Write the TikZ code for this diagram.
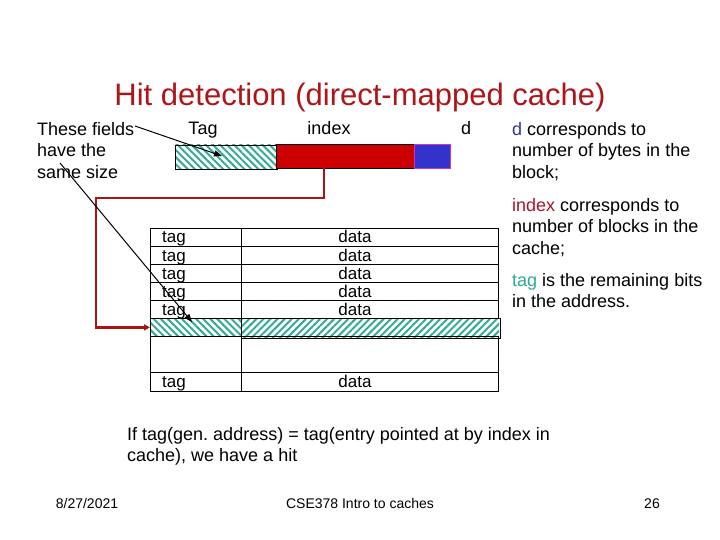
\documentclass[tikz,border=0pt]{standalone}
\usepackage{fontspec}
\setmainfont{Liberation Sans}
\usetikzlibrary{arrows.meta,patterns.meta}
\definecolor{titlered}{RGB}{175,20,25}
\definecolor{boxred}{RGB}{204,0,0}
\definecolor{dblue}{RGB}{51,51,204}
\definecolor{dborder}{RGB}{204,51,204}
\definecolor{hatch}{RGB}{51,170,150}
\definecolor{tagtxt}{RGB}{40,170,150}
\definecolor{idxtxt}{RGB}{170,20,40}
\definecolor{dtxt}{RGB}{51,51,153}
\definecolor{redline}{RGB}{170,20,20}
\frenchspacing
\tikzset{
  body/.style={inner sep=0pt, font=\fontsize{18}{21.5}\selectfont},
  para/.style={body, align=left, anchor=north west},
  cell/.style={draw=black, line width=0.8pt, inner sep=0pt, anchor=north west},
  tbltxt/.style={inner sep=0pt, font=\fontsize{17}{18}\selectfont},
  hatchbs/.style={pattern={Lines[angle=-45,distance=5pt,line width=2pt]}, pattern color=hatch},
  hatchfs/.style={pattern={Lines[angle=45,distance=5pt,line width=2pt]}, pattern color=hatch},
  blackarrow/.style={line width=1pt, -{Triangle[length=8pt,width=6pt]}},
  redarrow/.style={draw=redline, line width=2.6pt, -{Triangle[length=6pt,width=6pt]}},
  foot/.style={inner sep=0pt, anchor=base, font=\fontsize{14}{16}\selectfont}
}
\begin{document}
\begin{tikzpicture}[x=1pt,y=-1pt]
\useasboundingbox (0,0) rectangle (720,540);
% title
\node[inner sep=0pt, anchor=base, text=titlered, font=\fontsize{31}{36}\selectfont] (title) at (360,106) {Hit detection (direct-mapped cache)};
% left note
\node[para] (note) at (37,122) {These fields\\have the\\same size};
% field labels
\node[body, anchor=base] (ltag) at (203,135) {Tag};
\node[body, anchor=base] (lidx) at (329,135) {index};
\node[body, anchor=base] (ld) at (466,135) {d};
% address fields
\node[cell, hatchbs, minimum width=102pt, minimum height=24pt] (tagf) at (174,144) {};
\node[cell, fill=boxred, minimum width=138pt, minimum height=24pt] (idxf) at (276,144) {};
\node[cell, draw=dborder, fill=dblue, minimum width=36pt, minimum height=24pt] (df) at (414,144) {};
% right explanation
\node[para] (pd) at (512,122) {\textcolor{dtxt}{d} corresponds to\\number of bytes in the\\block;};
\node[para] (pidx) at (512,198) {\textcolor{idxtxt}{index} corresponds to\\number of blocks in the\\cache;};
\node[para] (ptag) at (512,273) {\textcolor{tagtxt}{tag} is the remaining bits\\in the address.};
% table
\foreach \i/\y in {1/228,2/246,3/264,4/282,5/300}{
  \node[cell, minimum width=91pt, minimum height=18pt] (t\i) at (150,\y) {};
  \node[cell, minimum width=257pt, minimum height=18pt] (d\i) at (241,\y) {};
  \node[tbltxt, anchor=base west] (tt\i) at (162,\y+15) {tag};
  \node[tbltxt, anchor=base] (dt\i) at (355,\y+15) {data};
}
\node[cell, draw=none, hatchbs, minimum width=91pt, minimum height=18pt] (ht) at (150,318) {};
\node[cell, draw=none, hatchfs, minimum width=257pt, minimum height=18pt] (hd) at (241,318) {};
\draw[line width=0.8pt] (ht.north west) rectangle (ht.south east);
\draw[line width=0.8pt] (hd.north west) rectangle (hd.south east);
\node[cell, minimum width=91pt, minimum height=36pt] (et) at (150,336) {};
\node[cell, minimum width=257pt, minimum height=36pt] (ed) at (241,336) {};
\node[cell, minimum width=91pt, minimum height=19pt] (lt) at (150,372) {};
\node[cell, minimum width=257pt, minimum height=19pt] (ld2) at (241,372) {};
\node[tbltxt, anchor=base west] (ltt) at (162,387) {tag};
\node[tbltxt, anchor=base] (ldt) at (355,387) {data};
% connectors
\coordinate (a1s) at (135,126);
\coordinate (a1e) at (222,156);
\coordinate (a2s) at (60,163);
\coordinate (a2e) at (192,322);
\coordinate (rs) at (324,168);
\coordinate (rc1) at (324,198);
\coordinate (rc2) at (96,198);
\draw[blackarrow] (a1s) -- (a1e);
\draw[redarrow] (rs) -- (rc1) -- (rc2) |- (ht.west);
\draw[blackarrow] (a2s) -- (a2e);
% bottom statement
\node[para] (stmt) at (127,427) {If tag(gen. address) = tag(entry pointed at by index in\\cache), we have a hit};
% footer
\node[foot] (fdate) at (87,508) {8/27/2021};
\node[foot] (fcourse) at (360,508) {CSE378 Intro to caches};
\node[foot] (fpage) at (652,508) {26};
\end{tikzpicture}
\end{document}
